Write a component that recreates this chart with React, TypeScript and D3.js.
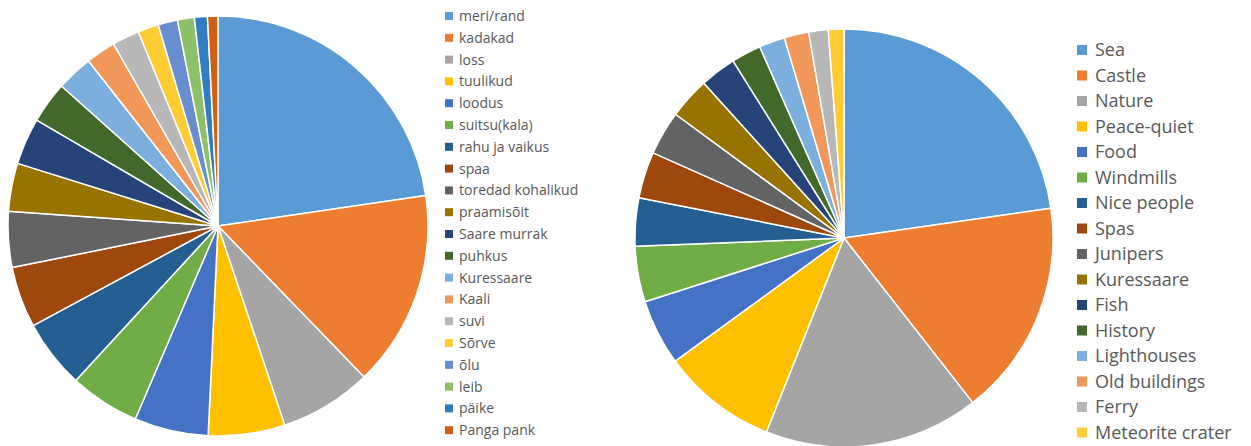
import React from "react";
import * as d3 from "d3";

const estCategories = [
  "meri/rand", "kadakad", "loss", "tuulikud", "loodus", "suitsu(kala)", "rahu ja vaikus", "spaa",
  "toredad kohalikud", "praamisõit", "Saare murrak", "puhkus", "Kuressaare", "Kaali", "suvi",
  "Sõrve", "õlu", "leib", "päike", "Panga pank",
];
const estValues = [22.7, 15.1, 7.1, 5.9, 5.7, 5.4, 5.3, 4.7, 4.3, 3.7, 3.6, 3.2, 2.8, 2.3, 2.1, 1.6, 1.5, 1.3, 1.0, 0.8];

const engCategories = [
  "Sea", "Castle", "Nature", "Peace-quiet", "Food", "Windmills", "Nice people", "Spas", "Junipers",
  "Kuressaare", "Fish", "History", "Lighthouses", "Old buildings", "Ferry", "Meteorite crater",
];
const engValues = [22.7, 16.7, 16.6, 8.9, 5.1, 4.3, 3.7, 3.6, 3.4, 3.2, 2.8, 2.3, 2.0, 1.9, 1.5, 1.2];

const palette = [
  "#5B9BD5", "#ED7D31", "#A5A5A5", "#FFC000", "#4472C4", "#70AD47", "#255E91", "#9E480E",
  "#636363", "#997300", "#264478", "#43682B", "#7CAFDD", "#F1975A", "#B7B7B7", "#FFCD33",
  "#698ED0", "#8CC168", "#327DC2", "#D26012",
];

type PieProps = {
  cats: string[];
  vals: number[];
  cx: number;
  cy: number;
  r: number;
  legendX: number;
  legendY: number;
  legendStep: number;
  fontSize: number;
  marker: number;
  gap: number;
};

function Pie({ cats, vals, cx, cy, r, legendX, legendY, legendStep, fontSize, marker, gap }: PieProps) {
  const data = cats.map((c, i) => ({ c, v: vals[i], i }));
  const pie = d3.pie<{ c: string; v: number; i: number }>().value((d) => d.v).sort(null);
  const arc = d3.arc<d3.PieArcDatum<{ c: string; v: number; i: number }>>().innerRadius(0).outerRadius(r);
  const color = d3.scaleOrdinal<string, string>().domain(cats).range(palette);
  const arcs = pie(data);
  return (
    <g>
      <g transform={`translate(${cx},${cy})`}>
        {arcs.map((a) => (
          <path key={a.data.c} d={arc(a) || ""} fill={color(a.data.c)} stroke="#fff" strokeWidth={1.5} strokeLinejoin="round" />
        ))}
      </g>
      <g>
        {cats.map((c, i) => (
          <g key={c} transform={`translate(${legendX},${legendY + i * legendStep})`}>
            <rect x={0} y={-marker / 2} width={marker} height={marker} fill={color(c)} />
            <text x={marker + gap} y={0} dy="0.35em" fontSize={fontSize} fill="#595959" fontFamily="'Open Sans', 'Noto Sans', sans-serif">
              {c}
            </text>
          </g>
        ))}
      </g>
    </g>
  );
}

export default function App() {
  return (
    <svg width={1251} height={446} style={{ position: "absolute", left: 0, top: 0, background: "#fff" }}>
      <rect width={1251} height={446} fill="#fff" />
      <Pie cats={estCategories} vals={estValues} cx={218} cy={226} r={210}
        legendX={445} legendY={16} legendStep={21.8} fontSize={14} marker={8} gap={6} />
      <Pie cats={engCategories} vals={engValues} cx={844} cy={238} r={209}
        legendX={1077} legendY={50} legendStep={25.5} fontSize={18} marker={10} gap={8} />
    </svg>
  );
}
